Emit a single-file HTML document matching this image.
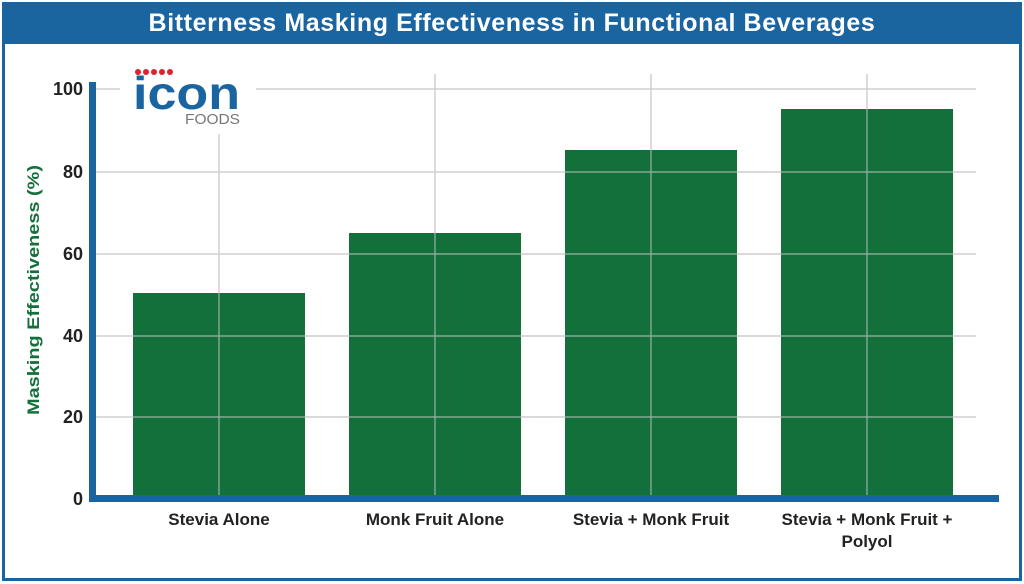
<!DOCTYPE html>
<html><head><style>
body{margin:0;width:1024px;height:584px;background:#fff;font-family:"Liberation Sans",sans-serif;position:relative;overflow:hidden}
.a{position:absolute}
</style></head><body>
<div class="a" style="left:2px;top:2px;width:1014px;height:573px;border:3px solid #1a64a0;"></div>
<div class="a" style="left:2px;top:2px;width:1020px;height:42px;background:#1a64a0;color:#fff;font-weight:bold;font-size:25px;line-height:42px;text-align:center;letter-spacing:0.6px">Bitterness Masking Effectiveness in Functional Beverages</div>
<svg class="a" style="left:0;top:0" width="1024" height="584">
<g stroke="#d0d0d0" stroke-width="1.5">
<line x1="96" x2="976" y1="89" y2="89"/><line x1="96" x2="976" y1="172" y2="172"/><line x1="96" x2="976" y1="254" y2="254"/><line x1="96" x2="976" y1="336" y2="336"/><line x1="96" x2="976" y1="417" y2="417"/>
<line x1="219" x2="219" y1="134" y2="496"/><line x1="435" x2="435" y1="74" y2="496"/><line x1="651" x2="651" y1="74" y2="496"/><line x1="867" x2="867" y1="74" y2="496"/>
</g>
<rect x="120" y="64" width="136" height="66" fill="#fff"/>
<g fill="#13703a">
<rect x="133" y="293" width="172" height="203"/><rect x="349" y="233" width="172" height="263"/><rect x="565" y="150" width="172" height="346"/><rect x="781" y="109" width="172" height="387"/>
</g>
<g stroke="#d0d0d0" stroke-width="1.2" opacity="0.7">
<line x1="133" x2="953" y1="417" y2="417"/><line x1="133" x2="953" y1="336" y2="336"/><line x1="349" x2="953" y1="254" y2="254"/><line x1="565" x2="953" y1="172" y2="172"/>
<line x1="219" x2="219" y1="293" y2="496"/><line x1="435" x2="435" y1="233" y2="496"/><line x1="651" x2="651" y1="150" y2="496"/><line x1="867" x2="867" y1="109" y2="496"/>
</g>
<rect x="89" y="82" width="7" height="420" fill="#1a64a0"/>
<rect x="89" y="495" width="910" height="7" fill="#1a64a0"/>
<g font-weight="bold" font-size="18" fill="#222" text-anchor="end">
<text x="83" y="95">100</text><text x="83" y="178">80</text><text x="83" y="260">60</text><text x="83" y="342">40</text><text x="83" y="423">20</text><text x="83" y="505">0</text>
</g>
<g font-weight="bold" font-size="17" fill="#222" text-anchor="middle">
<text x="219" y="525">Stevia Alone</text><text x="435" y="525">Monk Fruit Alone</text><text x="651" y="525">Stevia + Monk Fruit</text><text x="867" y="525">Stevia + Monk Fruit +</text><text x="867" y="547">Polyol</text>
</g>
<text transform="translate(39,290) rotate(-90)" text-anchor="middle" font-weight="bold" font-size="17" fill="#13703a" textLength="250" lengthAdjust="spacingAndGlyphs">Masking Effectiveness (%)</text>
<g fill="#e0202a"><circle cx="138" cy="72" r="3"/><circle cx="146" cy="72" r="3"/><circle cx="154" cy="72" r="3"/><circle cx="162" cy="72" r="3"/><circle cx="170" cy="72" r="3"/></g>
<text x="133" y="109" font-weight="bold" font-size="46" fill="#1a64a0" textLength="107" lengthAdjust="spacingAndGlyphs">icon</text>
<text x="185" y="124" font-size="15" fill="#777" textLength="55" lengthAdjust="spacingAndGlyphs">FOODS</text>
</svg>
</body></html>
